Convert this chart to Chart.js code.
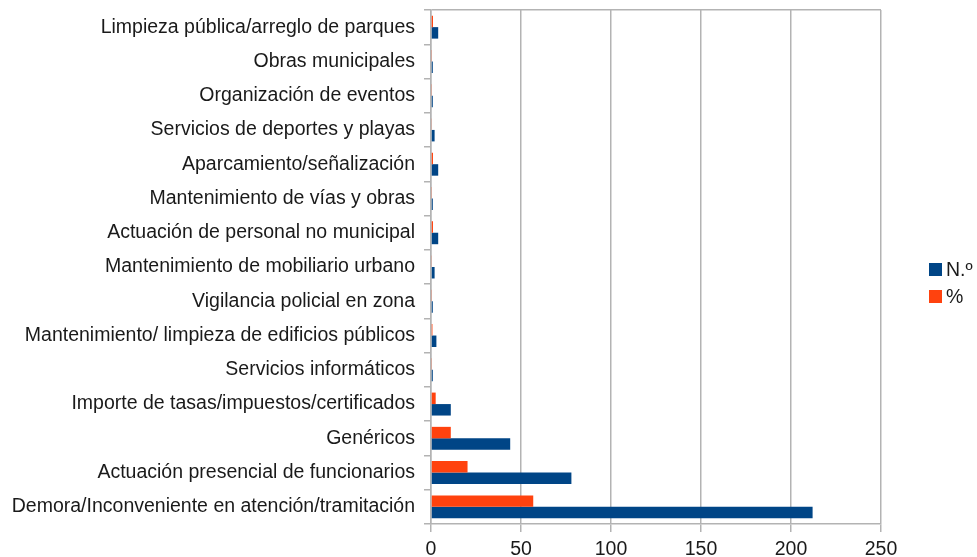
<!DOCTYPE html>
<html>
<head>
<meta charset="utf-8">
<script src="https://cdn.jsdelivr.net/npm/chart.js@4/dist/chart.umd.min.js"></script>
<style>
html,body{margin:0;padding:0;background:#fff;}
#wrap{width:977px;height:557px;position:relative;}
</style>
</head>
<body>
<div id="wrap"><canvas id="c" width="977" height="557"></canvas></div>
<script>
const categories = [
  "Limpieza pública/arreglo de parques",
  "Obras municipales",
  "Organización de eventos",
  "Servicios de deportes y playas",
  "Aparcamiento/señalización",
  "Mantenimiento de vías y obras",
  "Actuación de personal no municipal",
  "Mantenimiento de mobiliario urbano",
  "Vigilancia policial en zona",
  "Mantenimiento/ limpieza de edificios públicos",
  "Servicios informáticos",
  "Importe de tasas/impuestos/certificados",
  "Genéricos",
  "Actuación presencial de funcionarios",
  "Demora/Inconveniente en atención/tramitación"
];
const numero = [4, 1, 1, 2, 4, 1, 4, 2, 1, 3, 1, 11, 44, 78, 212];
const porcentaje = [1.1, 0.3, 0.3, 0.5, 1.1, 0.3, 1.1, 0.5, 0.3, 0.8, 0.3, 2.6, 11.0, 20.3, 56.8];
const xTicks = [0, 50, 100, 150, 200, 250];

const gridColor = '#b3b3b3';
const textColor = '#1a1a1a';
const FONT = '"Liberation Sans"';
const FSIZE = 19.5;

const sideLegend = {
  id: 'sideLegend',
  afterDraw(chart) {
    const ctx = chart.ctx;
    const order = [1, 0];
    const x = 929, y0 = 263, step = 27, box = 13;
    ctx.save();
    ctx.font = FSIZE + 'px ' + FONT;
    ctx.textBaseline = 'middle';
    ctx.textAlign = 'left';
    order.forEach((di, i) => {
      const ds = chart.data.datasets[di];
      const y = y0 + i * step;
      ctx.fillStyle = ds.backgroundColor;
      ctx.fillRect(x, y, box, box);
      ctx.fillStyle = textColor;
      ctx.fillText(ds.label, x + box + 4, y + box / 2 + 1);
    });
    ctx.restore();
  }
};

new Chart(document.getElementById('c'), {
  type: 'bar',
  data: {
    labels: categories,
    datasets: [
      { label: '%', data: porcentaje, backgroundColor: '#ff420e', borderWidth: 0 },
      { label: 'N.º', data: numero, backgroundColor: '#004586', borderWidth: 0 }
    ]
  },
  plugins: [sideLegend],
  options: {
    indexAxis: 'y',
    responsive: false,
    animation: false,
    devicePixelRatio: 1,
    layout: { padding: { top: 10, right: 96, bottom: 0, left: 0 } },
    datasets: { bar: { categoryPercentage: 0.67, barPercentage: 1.0 } },
    scales: {
      x: {
        min: xTicks[0],
        max: xTicks[xTicks.length - 1],
        afterBuildTicks: (axis) => { axis.ticks = xTicks.map(v => ({ value: v })); },
        afterFit: (scale) => { scale.height = 33; scale.paddingLeft = 0; scale.paddingRight = 0; },
        grid: { color: gridColor, lineWidth: 1.5, tickLength: 8, drawTicks: true },
        border: { color: gridColor, width: 1.5 },
        ticks: { color: textColor, font: { family: FONT, size: FSIZE, lineHeight: 1.0 }, padding: 8 }
      },
      y: {
        afterFit: (scale) => { scale.width = 431; scale.paddingTop = 0; scale.paddingBottom = 0; },
        grid: {
          offset: true,
          color: (ctx) => ctx.index === 0 ? gridColor : 'rgba(0,0,0,0)',
          tickColor: gridColor,
          lineWidth: 1.5,
          tickLength: 7,
          drawTicks: true
        },
        border: { color: gridColor, width: 1.5 },
        ticks: { color: textColor, font: { family: FONT, size: FSIZE }, padding: 9, autoSkip: false }
      }
    },
    plugins: {
      legend: { display: false },
      tooltip: { enabled: false }
    }
  }
});
</script>
</body>
</html>
